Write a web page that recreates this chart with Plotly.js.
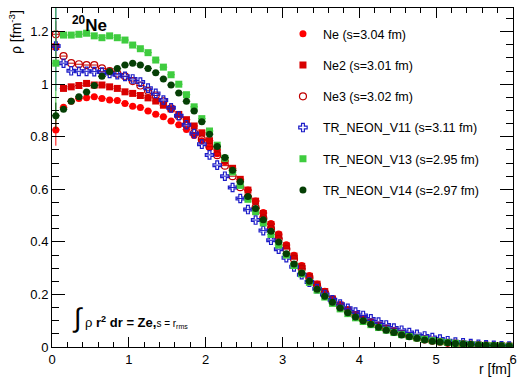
<!DOCTYPE html>
<html>
<head>
<meta charset="utf-8">
<script src="https://cdn.plot.ly/plotly-3.0.1.min.js"></script>
<style>html,body{margin:0;padding:0;background:#fff;}#plot{width:523px;height:377px;}</style>
</head>
<body>
<div id="plot"></div>
<script>
// bin centres r [fm]
const r = [0.05,0.15,0.25,0.35,0.45,0.55,0.65,0.75,0.85,0.95,1.05,1.15,1.25,1.35,1.45,1.55,1.65,1.75,1.85,1.95,
  2.05,2.15,2.25,2.35,2.45,2.55,2.65,2.75,2.85,2.95,3.05,3.15,3.25,3.35,3.45,3.55,3.65,3.75,3.85,3.95,
  4.05,4.15,4.25,4.35,4.45,4.55,4.65,4.75,4.85,4.95,5.05,5.15,5.25,5.35,5.45,5.55,5.65,5.75,5.85,5.95];

const ne = [0.826,0.912,0.935,0.946,0.948,0.952,0.946,0.940,0.938,0.927,0.916,0.911,0.898,0.886,0.876,0.860,0.846,0.828,0.805,0.785,
  0.760,0.735,0.705,0.672,0.636,0.597,0.556,0.512,0.470,0.430,0.389,0.349,0.310,0.272,0.240,0.212,0.184,0.161,0.143,0.124,
  0.109,0.096,0.083,0.071,0.061,0.051,0.042,0.036,0.030,0.024,0.021,0.017,0.013,0.010,0.009,0.007,0.006,0.005,0.004,0.004];

const ne2 = [1.143,0.984,0.990,0.995,1.003,0.997,0.997,0.990,0.984,0.971,0.965,0.957,0.948,0.936,0.920,0.906,0.885,0.865,0.841,0.815,
  0.785,0.750,0.710,0.680,0.638,0.597,0.555,0.508,0.466,0.426,0.385,0.346,0.307,0.269,0.239,0.211,0.183,0.160,0.140,0.123,
  0.108,0.095,0.083,0.071,0.061,0.051,0.043,0.036,0.030,0.025,0.021,0.017,0.014,0.011,0.009,0.007,0.006,0.005,0.004,0.003];

const ne3 = [1.190,1.107,1.080,1.076,1.073,1.073,1.060,1.050,1.040,1.030,1.012,0.995,0.975,0.957,0.935,0.908,0.878,0.845,0.815,0.790,
  0.762,0.730,0.690,0.650,0.608,0.570,0.530,0.490,0.450,0.412,0.373,0.335,0.298,0.263,0.232,0.205,0.180,0.157,0.138,0.120,
  0.105,0.092,0.080,0.069,0.059,0.050,0.042,0.035,0.029,0.024,0.020,0.016,0.013,0.011,0.009,0.007,0.006,0.005,0.004,0.003];

const v11 = [1.145,1.080,1.051,1.049,1.049,1.048,1.046,1.041,1.036,1.030,1.020,1.008,0.985,0.965,0.940,0.910,0.880,0.846,0.812,0.772,
  0.731,0.692,0.650,0.607,0.565,0.523,0.483,0.443,0.406,0.372,0.340,0.305,0.275,0.247,0.222,0.200,0.180,0.163,0.147,0.133,
  0.120,0.107,0.095,0.084,0.072,0.064,0.055,0.048,0.042,0.036,0.030,0.024,0.019,0.016,0.013,0.010,0.008,0.006,0.005,0.004];

const v13 = [1.080,1.187,1.187,1.190,1.194,1.184,1.177,1.184,1.177,1.168,1.149,1.135,1.120,1.092,1.065,1.036,1.000,0.960,0.914,0.869,
  0.822,0.768,0.718,0.666,0.615,0.562,0.515,0.472,0.428,0.388,0.350,0.310,0.278,0.246,0.216,0.190,0.166,0.145,0.127,0.111,
  0.097,0.085,0.074,0.064,0.055,0.047,0.040,0.034,0.029,0.024,0.020,0.017,0.014,0.011,0.009,0.007,0.006,0.005,0.004,0.003];

const v14 = [0.880,0.905,0.935,0.952,0.970,0.995,1.030,1.048,1.060,1.073,1.080,1.073,1.060,1.044,1.020,0.997,0.967,0.935,0.898,0.857,
  0.810,0.763,0.721,0.673,0.629,0.573,0.527,0.484,0.440,0.400,0.355,0.316,0.282,0.250,0.220,0.193,0.170,0.148,0.130,0.114,
  0.100,0.087,0.075,0.064,0.055,0.046,0.039,0.033,0.027,0.022,0.019,0.016,0.013,0.011,0.010,0.008,0.007,0.006,0.005,0.004];

// statistical error of the first bin (others negligible)
const firstBinErr = [0.06, 0.05, 0.05, 0.17, 0.22, 0.05];

const names = ['Ne (s=3.04 fm)','Ne2 (s=3.01 fm)','Ne3 (s=3.02 fm)','TR_NEON_V11 (s=3.11 fm)','TR_NEON_V13 (s=2.95 fm)','TR_NEON_V14 (s=2.97 fm)'];
const series = [ne, ne2, ne3, v11, v13, v14];

const colors = ['#ff0000','#d80000','#c00000','#1c1cc8','#3fcc3f','#053f05'];
const symbols = ['circle','square','circle-open','cross-open','square','circle'];
const sizes = [7,7,7,7,7,7];

const traces = series.map((y, k) => ({
  x: r, y: y, name: names[k], type: 'scatter', mode: 'markers',
  legendgroup: 'g' + k,
  marker: {symbol: symbols[k], size: sizes[k], color: colors[k],
           line: {color: colors[k], width: (symbols[k].endsWith('open') ? 1.2 : 0)}},
  error_x: {type: 'constant', value: 0.05, color: colors[k], thickness: 1, width: 0},
  error_y: {type: 'data', array: r.map((_, i) => i === 0 ? firstBinErr[k] : 0), visible: true,
            color: colors[k], thickness: 1, width: 0},
  cliponaxis: true
}));

const font = {family: '"Liberation Sans", Arial, Helvetica, sans-serif', color: '#000'};

const layout = {
  width: 523, height: 377,
  margin: {l: 52, r: 10, t: 8, b: 30},
  paper_bgcolor: '#fff', plot_bgcolor: '#fff',
  font: Object.assign({size: 13}, font),
  showlegend: true,
  legend: {x: 0.501, xanchor: 'left', y: 0.967, yanchor: 'top', bgcolor: 'rgba(0,0,0,0)',
           font: Object.assign({size: 12.5}, font), traceorder: 'grouped', tracegroupgap: 12,
           itemwidth: 30},
  xaxis: {range: [0, 6], showgrid: false, zeroline: false, showline: true, linecolor: '#000', linewidth: 1,
          mirror: 'allticks', ticks: 'inside', ticklen: 10, tickcolor: '#000', dtick: 1, tick0: 0,
          minor: {dtick: 0.2, ticklen: 5, tickcolor: '#000', ticks: 'inside'},
          tickfont: Object.assign({size: 13}, font)},
  yaxis: {range: [0, 1.29], showgrid: false, zeroline: false, showline: true, linecolor: '#000', linewidth: 1,
          mirror: 'allticks', ticks: 'inside', ticklen: 13, tickcolor: '#000', dtick: 0.2, tick0: 0,
          minor: {dtick: 0.05, ticklen: 7, tickcolor: '#000', ticks: 'inside'},
          tickfont: Object.assign({size: 13}, font)},
  annotations: [
    {xref: 'paper', yref: 'paper', x: 1, y: 0, xanchor: 'right', yanchor: 'top', yshift: -12,
     text: 'r [fm]', showarrow: false, font: Object.assign({size: 14}, font)},
    {xref: 'paper', yref: 'paper', x: 0, y: 1, xanchor: 'center', yanchor: 'top', xshift: -37,
     textangle: -90, text: 'ρ [fm<sup>-3</sup>]', showarrow: false, font: Object.assign({size: 14}, font)},
    {xref: 'paper', yref: 'paper', x: 0.038, y: 0.99, xanchor: 'left', yanchor: 'top',
     text: '<b><sup>20</sup>Ne</b>', showarrow: false, font: Object.assign({size: 17}, font)},
    {xref: 'paper', yref: 'paper', x: 0.04, y: 0.085, xanchor: 'left', yanchor: 'middle',
     text: '<span style="font-size:27px">∫</span> ρ <b>r<sup>2</sup> dr = Ze,</b><span style="font-size:10px">s = r<sub>rms</sub></span>',
     showarrow: false, font: Object.assign({size: 13}, font)}
  ]
};

Plotly.newPlot('plot', traces, layout, {staticPlot: true, displayModeBar: false});
</script>
</body>
</html>
